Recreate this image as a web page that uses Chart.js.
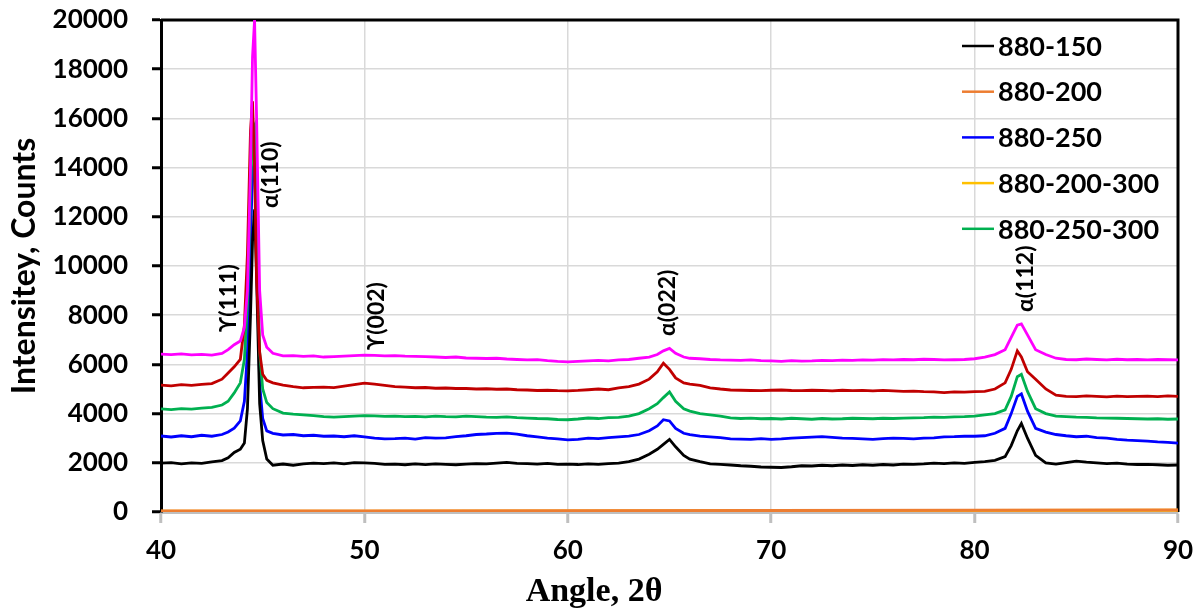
<!DOCTYPE html>
<html>
<head>
<meta charset="utf-8">
<script src="https://cdn.jsdelivr.net/npm/chart.js@4/dist/chart.umd.min.js"></script>
<style>
  body { margin: 0; background: #fff; }
  #wrap { width: 1203px; height: 614px; }
</style>
</head>
<body>
<div id="wrap"><canvas id="xrd" width="1203" height="614"></canvas></div>
<script>
// 2θ positions shared by the offset patterns
const angles = [
  40, 40.5, 41, 41.5, 42, 42.5, 43, 43.3, 43.6, 43.9,
  44.1, 44.25, 44.4, 44.5, 44.6, 44.7, 44.85, 45.0, 45.2, 45.5,
  46, 46.5, 47, 47.5, 48, 48.5, 49, 49.5, 50, 50.5,
  51, 51.5, 52, 52.5, 53, 53.5, 54, 54.5, 55, 55.5,
  56, 56.5, 57, 57.5, 58, 58.5, 59, 59.5, 60, 60.5,
  61, 61.5, 62, 62.5, 63, 63.5, 64, 64.4, 64.7, 65.0,
  65.3, 65.7, 66, 66.5, 67, 67.5, 68, 68.5, 69, 69.5,
  70, 70.5, 71, 71.5, 72, 72.5, 73, 73.5, 74, 74.5,
  75, 75.5, 76, 76.5, 77, 77.5, 78, 78.5, 79, 79.5,
  80, 80.5, 81, 81.5, 81.8, 82.1, 82.3, 82.6, 83, 83.5,
  84, 84.5, 85, 85.5, 86, 86.5, 87, 87.5, 88, 88.5,
  89, 89.5, 90
];

const counts150 = [
  1990, 2010, 1960, 2000, 1980, 2040, 2090, 2200, 2420, 2550,
  2800, 4200, 8000, 11000, 12300, 9500, 4400, 2900, 2150, 1900,
  1950, 1900, 1960, 1990, 1970, 2000, 1960, 2010, 2000, 1980,
  1940, 1950, 1920, 1960, 1930, 1960, 1940, 1920, 1950, 1970,
  1960, 1990, 2020, 1980, 1970, 1950, 1980, 1940, 1950, 1930,
  1960, 1940, 1970, 1990, 2050, 2150, 2350, 2550, 2750, 2950,
  2650, 2300, 2150, 2050, 1960, 1940, 1910, 1880, 1860, 1830,
  1820, 1810, 1840, 1880, 1870, 1900, 1880, 1910, 1890, 1920,
  1900, 1930, 1910, 1950, 1940, 1960, 1990, 1970, 2000, 1980,
  2020, 2050, 2100, 2250, 2700, 3300, 3600, 3000, 2300, 2000,
  1950, 2010, 2070, 2030, 2000, 1970, 1990, 1950, 1930, 1940,
  1920, 1900, 1910
];

const counts250 = [
  3090, 3050, 3100, 3060, 3120, 3080, 3150, 3250, 3410, 3700,
  4500, 6500, 11000, 13800, 14300, 11000, 5200, 3800, 3300, 3200,
  3130, 3150, 3100, 3120, 3080, 3090, 3060, 3100, 3050, 3000,
  2970, 2980, 3000, 2960, 3020, 3000, 3010, 3060, 3100, 3150,
  3170, 3200, 3210, 3170, 3100, 3050, 3000, 2970, 2930, 2950,
  3000, 2980, 3020, 3050, 3080, 3150, 3300, 3500, 3750, 3700,
  3400, 3200, 3150, 3080, 3050, 3020, 2970, 2960, 2950, 2980,
  2950, 2970, 3000, 3020, 3040, 3060, 3030, 3000, 2990, 2970,
  2950, 2980, 3000, 2990, 2970, 3000, 3010, 3050, 3060, 3080,
  3080, 3100, 3200, 3400, 4000, 4700, 4800, 4100, 3400, 3250,
  3150, 3100, 3060, 3080, 3020, 3000, 2950, 2920, 2900, 2880,
  2850, 2830, 2800
];

const counts250_300 = [
  4190, 4160, 4200, 4180, 4220, 4250, 4350, 4500, 4840, 5250,
  6200, 8500, 13000, 15500, 15700, 12000, 6500, 5000, 4450, 4200,
  4020, 3980, 3950, 3920, 3880, 3860, 3880, 3900, 3920, 3910,
  3890, 3900, 3880, 3890, 3870, 3900, 3880, 3870, 3900, 3880,
  3860, 3850, 3870, 3840, 3820, 3800, 3790, 3760, 3750, 3780,
  3820, 3800, 3840, 3850, 3900, 4000, 4200, 4400, 4650, 4880,
  4500, 4200, 4100, 4000, 3950, 3900, 3830, 3800, 3820, 3790,
  3800, 3780, 3810, 3790, 3770, 3800, 3780, 3790, 3810, 3800,
  3790, 3810, 3800, 3820, 3830, 3840, 3860, 3850, 3870, 3880,
  3900, 3950, 4000, 4150, 4700, 5500, 5600, 4900, 4200, 4000,
  3900, 3880, 3860, 3850, 3830, 3820, 3810, 3800, 3790, 3780,
  3790, 3770, 3780
];

const countsDarkRed = [
  5160, 5130, 5180, 5150, 5190, 5220, 5400, 5650, 5900, 6200,
  7600, 10500, 15500, 16700, 14000, 9500, 6500, 5600, 5350, 5250,
  5160, 5100, 5050, 5070, 5080, 5060, 5120, 5180, 5240, 5200,
  5150, 5100, 5080, 5050, 5060, 5030, 5040, 5020, 5020, 5000,
  5010, 4990, 5000, 4970, 4960, 4940, 4950, 4930, 4920, 4940,
  4970, 5000, 4970, 5050, 5100, 5200, 5400, 5700, 6050, 5800,
  5450, 5250, 5200, 5150, 5050, 5000, 4960, 4950, 4940, 4930,
  4950, 4960, 4940, 4930, 4950, 4940, 4920, 4950, 4930, 4940,
  4920, 4940, 4920, 4900, 4910, 4890, 4880, 4850, 4880, 4870,
  4890, 4900, 5000, 5250, 5800, 6550, 6300, 5700, 5400, 5000,
  4750, 4700, 4690, 4720, 4700, 4680, 4710, 4690, 4700, 4710,
  4690, 4720, 4700
];

const countsMagenta = [
  6420, 6400, 6430, 6390, 6410, 6380, 6450, 6600, 6800, 6950,
  7500, 9000, 14000, 18500, 20000, 16000, 9000, 7200, 6700, 6450,
  6350, 6360, 6330, 6350, 6300, 6320, 6340, 6360, 6380, 6370,
  6350, 6360, 6340, 6330, 6320, 6300, 6280, 6300, 6260, 6250,
  6240, 6250, 6220, 6200, 6180, 6190, 6150, 6120, 6100, 6120,
  6140, 6160, 6140, 6180, 6200, 6250, 6300, 6400, 6550, 6650,
  6450, 6300, 6250, 6230, 6200, 6180, 6170, 6160, 6180, 6150,
  6140, 6120, 6150, 6130, 6140, 6160, 6150, 6170, 6160, 6180,
  6170, 6190, 6180, 6200, 6190, 6210, 6200, 6180, 6190, 6200,
  6230, 6300, 6400, 6600, 7100, 7600, 7650, 7200, 6600, 6400,
  6250, 6200, 6190, 6220, 6200, 6180, 6210, 6190, 6200, 6180,
  6200, 6190, 6180
];

// the two flat traces lying on the axis
const lowAngles = [40, 50, 60, 70, 80, 90];
const counts200 = [40, 45, 55, 60, 75, 85];
const counts200_300 = [30, 35, 40, 50, 60, 70];

const xTicks = [40, 50, 60, 70, 80, 90];
const yTicks = [0, 2000, 4000, 6000, 8000, 10000, 12000, 14000, 16000, 18000, 20000];

const peakNames = ['ϒ(111)', 'α(110)', 'ϒ(002)', 'α(022)', 'α(112)'];

const toXY = (xs, ys) => xs.map((x, i) => ({ x: x, y: ys[i] }));

const series = (label, xs, ys, color, order, width) => ({
  label: label,
  data: toXY(xs, ys),
  borderColor: color,
  backgroundColor: color,
  borderWidth: width || 2.8,
  pointRadius: 0,
  tension: 0,
  order: order
});

// peak labels, written upward from (angle, counts)
const peakLabelPlugin = {
  id: 'peakLabels',
  afterDatasetsDraw(chart) {
    const { ctx, scales: { x, y } } = chart;
    const spots = [[43.3, 7320], [45.4, 12360], [50.6, 6590], [64.9, 7150], [82.5, 8130]];
    ctx.save();
    ctx.fillStyle = '#000';
    ctx.font = 'bold 23px Lato, "DejaVu Sans", sans-serif';
    ctx.textAlign = 'left';
    ctx.textBaseline = 'middle';
    peakNames.forEach((name, i) => {
      ctx.save();
      ctx.translate(x.getPixelForValue(spots[i][0]), y.getPixelForValue(spots[i][1]));
      ctx.rotate(-Math.PI / 2);
      ctx.fillText(name, 0, 0);
      ctx.restore();
    });
    ctx.restore();
  }
};

// frame on top/right, the in-plot legend and the x title
const framePlugin = {
  id: 'frame',
  beforeDatasetsDraw(chart) {
    const { ctx, chartArea: a } = chart;
    ctx.save();
    ctx.strokeStyle = '#000';
    ctx.lineWidth = 3;
    ctx.beginPath();
    ctx.moveTo(a.left, a.top);
    ctx.lineTo(a.right, a.top);
    ctx.lineTo(a.right, a.bottom);
    ctx.stroke();
    ctx.restore();
  },
  afterDraw(chart) {
    const { ctx } = chart;
    ctx.save();
    // legend
    ctx.font = 'bold 27px Lato, sans-serif';
    ctx.textBaseline = 'middle';
    ctx.textAlign = 'left';
    let row = 0;
    chart.data.datasets.forEach(ds => {
      if (!ds.label) return;
      const yy = 46 + row * 45.7;
      ctx.strokeStyle = ds.borderColor;
      ctx.lineWidth = 2.5;
      ctx.beginPath();
      ctx.moveTo(962, yy);
      ctx.lineTo(994, yy);
      ctx.stroke();
      ctx.fillStyle = '#000';
      ctx.fillText(ds.label, 998, yy + 1);
      row++;
    });
    // x axis title
    ctx.font = 'bold 34px "Liberation Serif", "Times New Roman", serif';
    ctx.textAlign = 'center';
    ctx.fillText('Angle, 2θ', 594, 592);
    ctx.restore();
  }
};

const ctx = document.getElementById('xrd');
new Chart(ctx, {
  type: 'line',
  data: {
    datasets: [
      series('880-150', angles, counts150, '#000000', 3),
      series('880-200', lowAngles, counts200, '#ED7D31', 5, 3),
      series('880-250', angles, counts250, '#0000FF', 4),
      series('880-200-300', lowAngles, counts200_300, '#FFC000', 6, 3),
      series('880-250-300', angles, counts250_300, '#00B050', 2),
      series('', angles, countsDarkRed, '#C00000', 1),
      series('', angles, countsMagenta, '#FF00FF', 0)
    ]
  },
  options: {
    responsive: false,
    animation: false,
    layout: { padding: { left: 0, top: 20, right: 25, bottom: 0 } },
    plugins: {
      legend: { display: false },
      tooltip: { enabled: false }
    },
    scales: {
      x: {
        type: 'linear',
        min: 40,
        max: 90,
        afterFit: (s) => {
          s.height = 102;
          s.paddingLeft = 0;
          s.paddingRight = 0;
        },
        afterBuildTicks: (s) => { s.ticks = xTicks.map(v => ({ value: v })); },
        grid: {
          color: '#d9d9d9',
          lineWidth: 1.5,
          tickColor: '#bfbfbf',
          tickWidth: 3,
          tickLength: 11
        },
        border: { color: '#bfbfbf', width: 3 },
        ticks: {
          color: '#000',
          padding: 12,
          maxRotation: 0,
          font: { family: 'Lato', weight: 'bold', size: 26 }
        }
      },
      y: {
        min: 0,
        max: 20000,
        afterFit: (s) => {
          s.width = 161;
          s.paddingTop = 0;
          s.paddingBottom = 0;
        },
        afterBuildTicks: (s) => { s.ticks = yTicks.map(v => ({ value: v })); },
        grid: {
          color: '#d9d9d9',
          lineWidth: 1.5,
          tickColor: '#000',
          tickWidth: 3,
          tickLength: 9
        },
        border: { color: '#000', width: 3 },
        ticks: {
          color: '#000',
          padding: 24,
          callback: (v) => String(v),
          font: { family: 'Lato', weight: 'bold', size: 26 }
        },
        title: {
          display: true,
          text: 'Intensitey, Counts',
          color: '#000',
          padding: { top: 5, bottom: 0 },
          font: { family: 'Lato', weight: 'bold', size: 32 }
        }
      }
    }
  },
  plugins: [peakLabelPlugin, framePlugin]
});
</script>
</body>
</html>
